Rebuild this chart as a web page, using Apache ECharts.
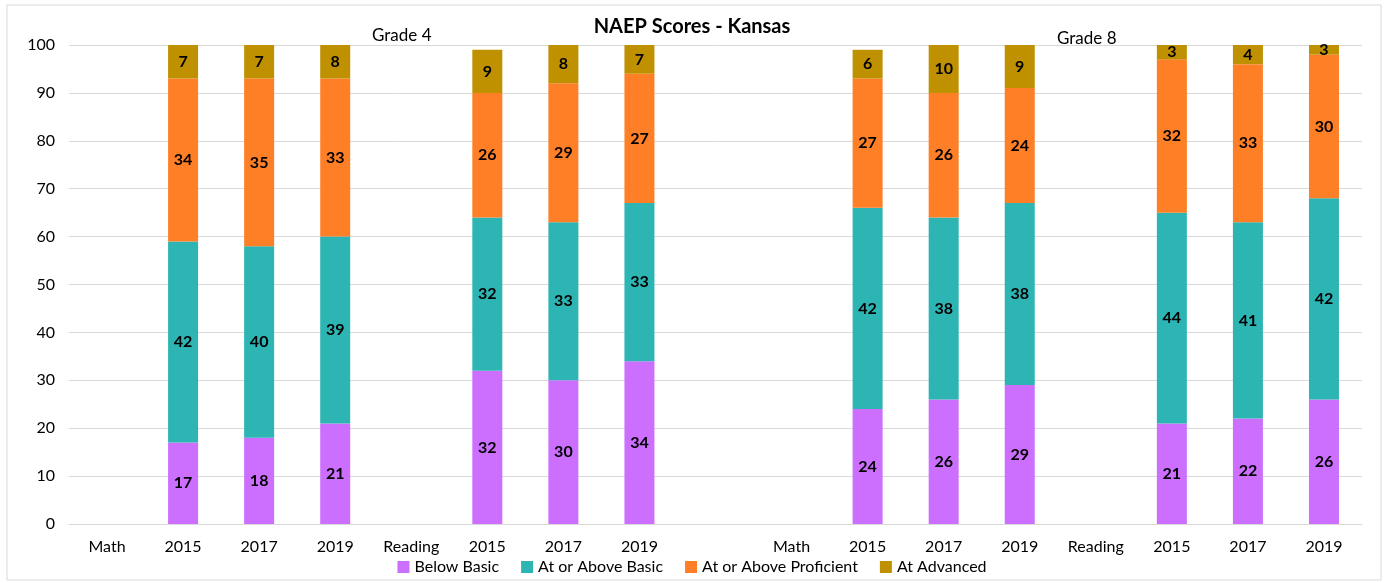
<!DOCTYPE html>
<html>
<head>
<meta charset="utf-8">
<script src="https://cdn.jsdelivr.net/npm/echarts@6/dist/echarts.min.js"></script>
<style>
  html, body { margin: 0; padding: 0; background: #fff; }
  #chart { width: 1384px; height: 583px; }
</style>
</head>
<body>
<div id="chart"></div>
<script>
// categories: Grade 4 (Math, Reading), a gap, then Grade 8 (Math, Reading)
var categories = ['Math', '2015', '2017', '2019', 'Reading', '2015', '2017', '2019', '',
                  'Math', '2015', '2017', '2019', 'Reading', '2015', '2017', '2019'];

var belowBasic      = [null, 17, 18, 21, null, 32, 30, 34, null, null, 24, 26, 29, null, 21, 22, 26];
var aboveBasic      = [null, 42, 40, 39, null, 32, 33, 33, null, null, 42, 38, 38, null, 44, 41, 42];
var aboveProficient = [null, 34, 35, 33, null, 26, 29, 27, null, null, 27, 26, 24, null, 32, 33, 30];
var advanced        = [null,  7,  7,  8, null,  9,  8,  7, null, null,  6, 10,  9, null,  3,  4,  3];

var seriesNames = ['Below Basic', 'At or Above Basic', 'At or Above Proficient', 'At Advanced'];
var seriesColors = ['#cc6fff', '#2db5b4', '#ff7f27', '#bf9000'];
var seriesData = [belowBasic, aboveBasic, aboveProficient, advanced];

var FONT = 'Lato, "Open Sans", sans-serif';

var chart = echarts.init(document.getElementById('chart'));

var series = seriesData.map(function(d, i) {
  return {
    name: seriesNames[i],
    type: 'bar',
    stack: 'total',
    barWidth: 30,
    data: d,
    itemStyle: { color: seriesColors[i] },
    label: {
      show: true,
      position: 'inside',
      color: '#000',
      fontWeight: 'bold',
      fontSize: 16,
      fontFamily: FONT
    }
  };
});

chart.setOption({
  backgroundColor: '#fff',
  animation: false,
  title: [
    { text: 'NAEP Scores - Kansas', left: 'center', top: 12,
      textStyle: { fontFamily: FONT, fontSize: 20, fontWeight: 'bold', color: '#000' } },
    { text: 'Grade 4', left: 367, top: 22,
      textStyle: { fontFamily: FONT, fontSize: 17, fontWeight: 'normal', color: '#000' } },
    { text: 'Grade 8', left: 1052, top: 25,
      textStyle: { fontFamily: FONT, fontSize: 17, fontWeight: 'normal', color: '#000' } }
  ],
  graphic: [{
    type: 'rect',
    shape: { x: 7, y: 5, width: 1374, height: 575 },
    style: { fill: 'none', stroke: '#d9d9d9', lineWidth: 1 },
    silent: true
  }],
  legend: {
    bottom: 3,
    left: 'center',
    itemWidth: 12,
    itemHeight: 12,
    itemGap: 22,
    icon: 'rect',
    textStyle: { fontFamily: FONT, fontSize: 16, color: '#000' },
    data: seriesNames
  },
  grid: { left: 69, right: 22, top: 45, bottom: 59 },
  xAxis: {
    type: 'category',
    data: categories,
    axisLine: { lineStyle: { color: '#d9d9d9' } },
    axisTick: { show: false },
    axisLabel: { color: '#000', fontFamily: FONT, fontSize: 16, margin: 15, interval: 0 }
  },
  yAxis: {
    type: 'value',
    min: 0,
    max: 100,
    interval: 10,
    axisLine: { show: false },
    axisTick: { show: false },
    axisLabel: { color: '#000', fontFamily: FONT, fontSize: 16, margin: 14 },
    splitLine: { lineStyle: { color: '#d9d9d9' } }
  },
  series: series
});
</script>
</body>
</html>
